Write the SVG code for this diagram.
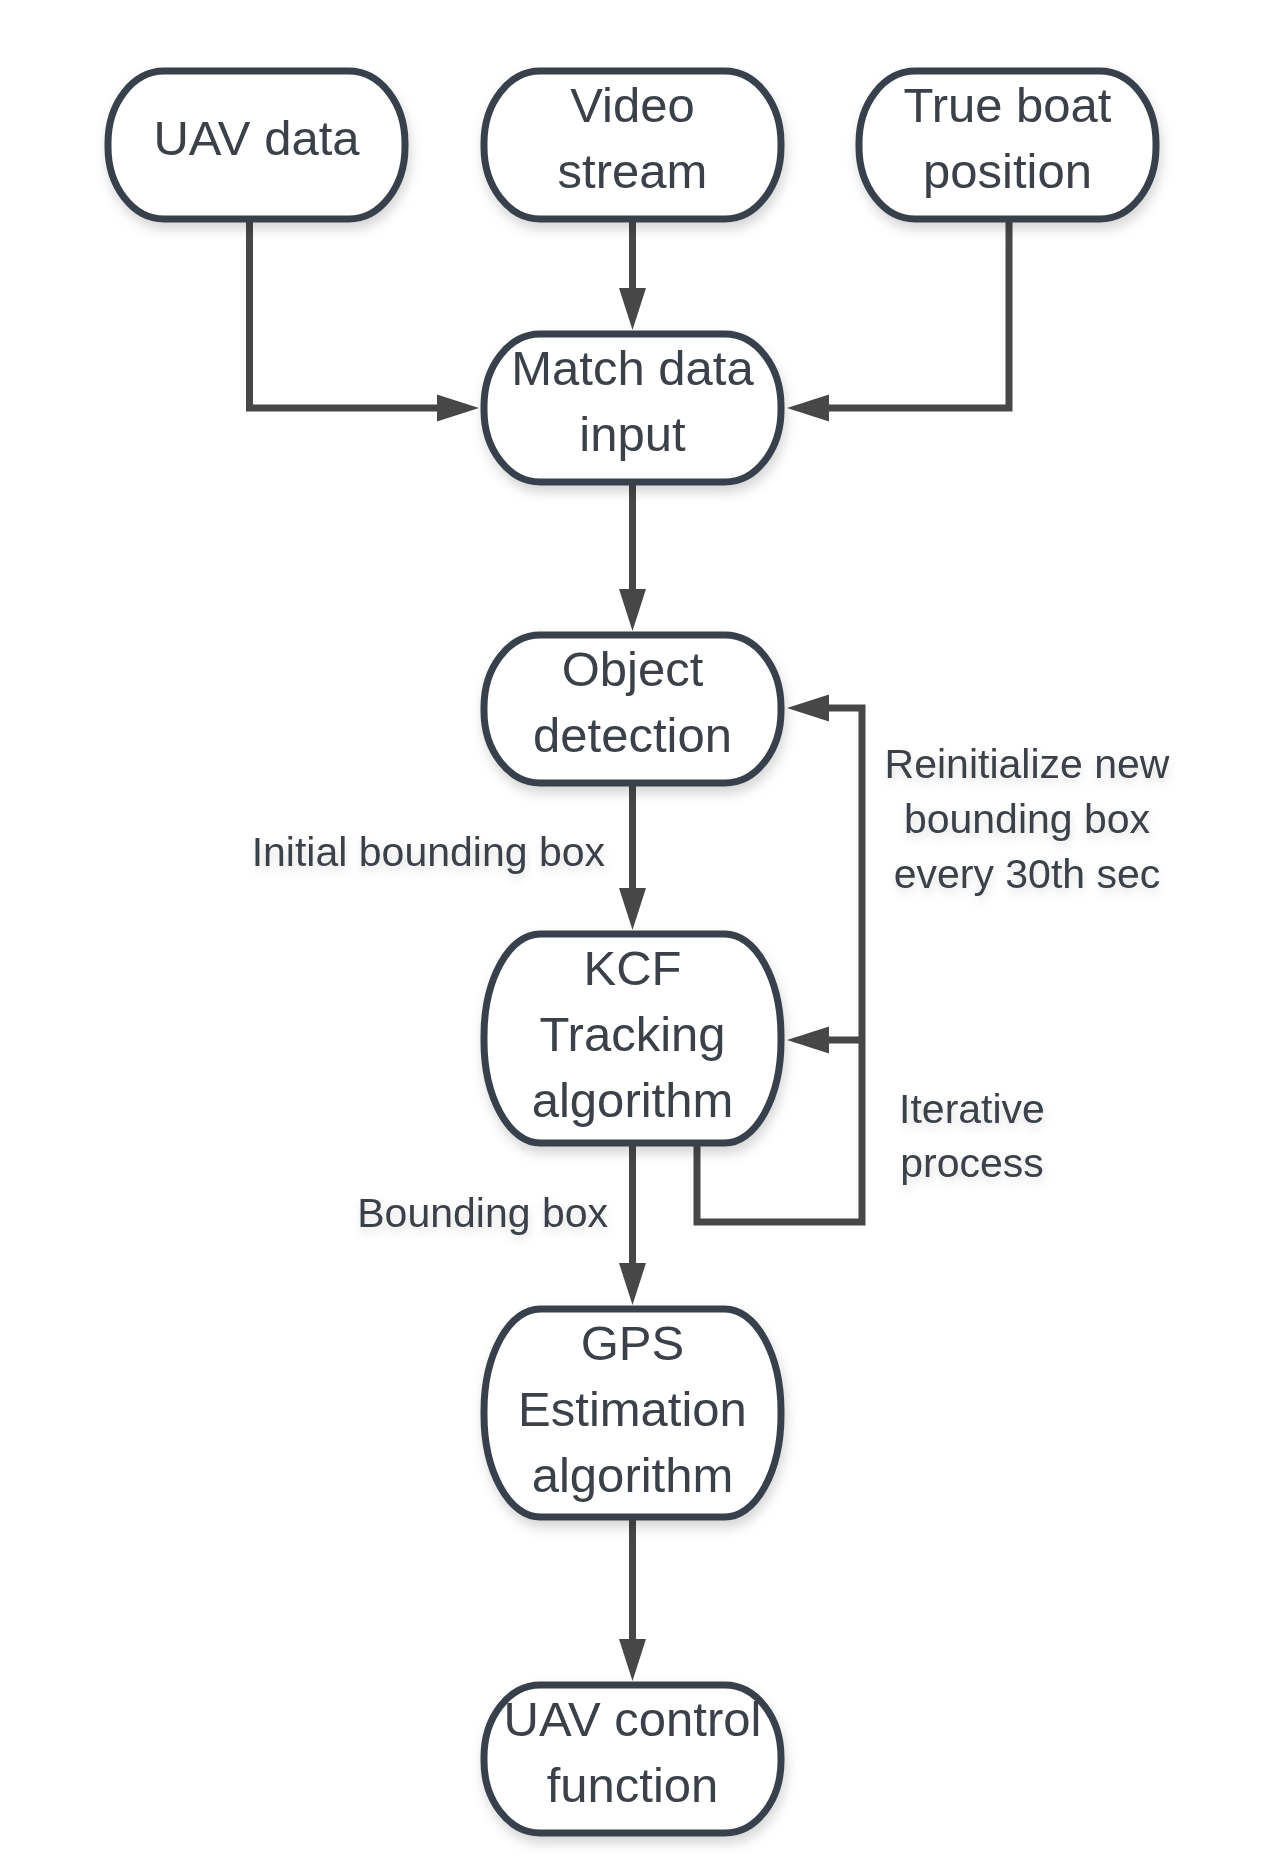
<svg xmlns="http://www.w3.org/2000/svg" width="1269" height="1872" viewBox="0 0 1269 1872">
<style>
.node{fill:#ffffff;stroke:#39414b;stroke-width:7;filter:url(#shadow);}
.nt{font-family:"Liberation Sans",Arial,sans-serif;font-size:49px;fill:#3b4049;text-anchor:middle;}
.lbl{font-family:"Liberation Sans",Arial,sans-serif;font-size:41px;fill:#3b4049;filter:url(#tshadow);}
.conn{fill:none;stroke:#474747;stroke-width:7;marker-end:url(#arrow);}
</style>
<defs>
<filter id="shadow" x="-20%" y="-20%" width="140%" height="150%">
<feDropShadow dx="2" dy="7" stdDeviation="6" flood-color="#000000" flood-opacity="0.16"/>
</filter>
<filter id="tshadow" x="-10%" y="-30%" width="120%" height="170%">
<feDropShadow dx="1" dy="5" stdDeviation="4" flood-color="#000000" flood-opacity="0.12"/>
</filter>
<marker id="arrow" markerUnits="userSpaceOnUse" markerWidth="44" markerHeight="28" refX="0" refY="13.5" orient="auto" viewBox="0 0 44 27">
<path d="M0,0 L42,13.5 L0,27 Z" fill="#474747"/>
</marker>
</defs>
<rect width="1269" height="1872" fill="#ffffff"/>

<g id="connectors">
<path class="conn" d="M249.5 219 V408 H437"/>
<path class="conn" d="M632.5 219 V288"/>
<path class="conn" d="M1009 219 V408 H829"/>
<path class="conn" d="M632.5 482 V589"/>
<path class="conn" d="M632.5 783 V888"/>
<path class="conn" d="M632.5 1143 V1263"/>
<path class="conn" d="M632.5 1517 V1639"/>
<path class="conn" d="M697 1143 V1222 H862 V708 H829"/>
<path class="conn" d="M862 1040 H829"/>
</g>

<g id="uav-data">
<rect class="node" x="108" y="71" width="297" height="148" rx="56" ry="72"/>
<text class="nt" x="256.5" y="155">UAV data</text>
</g>
<g id="video-stream">
<rect class="node" x="484" y="71" width="297" height="148" rx="56" ry="72"/>
<text class="nt" x="632.5" y="122">Video</text>
<text class="nt" x="632.5" y="188">stream</text>
</g>
<g id="true-boat-position">
<rect class="node" x="859" y="71" width="297" height="148" rx="56" ry="72"/>
<text class="nt" x="1007.5" y="122">True boat</text>
<text class="nt" x="1007.5" y="188">position</text>
</g>
<g id="match-data-input">
<rect class="node" x="484" y="334" width="297" height="148" rx="56" ry="72"/>
<text class="nt" x="632.5" y="385">Match data</text>
<text class="nt" x="632.5" y="451">input</text>
</g>
<g id="object-detection">
<rect class="node" x="484" y="635" width="297" height="148" rx="56" ry="72"/>
<text class="nt" x="632.5" y="686">Object</text>
<text class="nt" x="632.5" y="752">detection</text>
</g>
<g id="kcf-tracking">
<rect class="node" x="484" y="934" width="297" height="209" rx="56" ry="102"/>
<text class="nt" x="632.5" y="985">KCF</text>
<text class="nt" x="632.5" y="1051">Tracking</text>
<text class="nt" x="632.5" y="1117">algorithm</text>
</g>
<g id="gps-estimation">
<rect class="node" x="484" y="1309" width="297" height="208" rx="56" ry="102"/>
<text class="nt" x="632.5" y="1360">GPS</text>
<text class="nt" x="632.5" y="1426">Estimation</text>
<text class="nt" x="632.5" y="1492">algorithm</text>
</g>
<g id="uav-control-function">
<rect class="node" x="484" y="1685" width="297" height="148" rx="56" ry="72"/>
<text class="nt" x="632.5" y="1736">UAV control</text>
<text class="nt" x="632.5" y="1802">function</text>
</g>

<g id="labels">
<text class="lbl" x="605" y="866" text-anchor="end">Initial bounding box</text>
<text class="lbl" x="608" y="1227" text-anchor="end">Bounding box</text>
<text class="lbl" x="1027" y="778" text-anchor="middle">Reinitialize new</text>
<text class="lbl" x="1027" y="833" text-anchor="middle">bounding box</text>
<text class="lbl" x="1027" y="888" text-anchor="middle">every 30th sec</text>
<text class="lbl" x="972" y="1123" text-anchor="middle">Iterative</text>
<text class="lbl" x="972" y="1177" text-anchor="middle">process</text>
</g>
</svg>
